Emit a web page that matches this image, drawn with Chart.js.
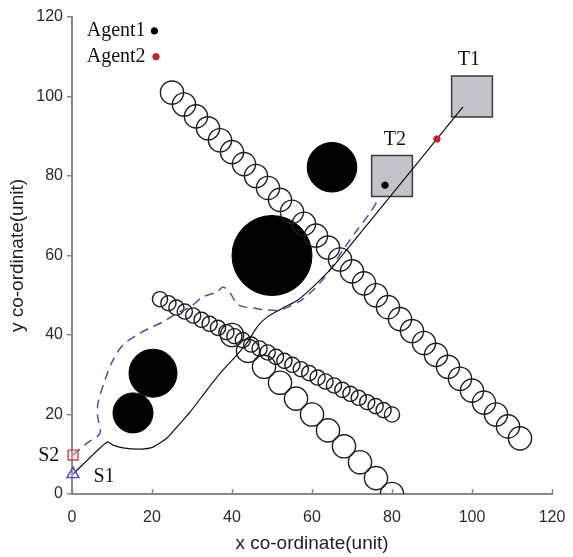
<!DOCTYPE html>
<html>
<head>
<meta charset="utf-8">
<script src="https://cdn.jsdelivr.net/npm/chart.js@4"></script>
<style>
  body { margin: 0; background: #fff; }
  canvas { display: block; }
</style>
</head>
<body>
<canvas id="pathChart" width="573" height="557"></canvas>
<script>
// upper row of wall circles
const row1X = [25, 28, 31, 34, 37, 40, 43, 46, 49, 52, 55, 58, 61, 64, 67, 70, 73, 76, 79, 82, 85, 88, 91, 94, 97, 100, 103, 106, 109, 112];
const row1Y = [101, 98, 95, 92, 89, 86, 83, 80, 77, 74, 71, 68, 65, 62, 59, 56, 53, 50, 47, 44, 41, 38, 35, 32, 29, 26, 23, 20, 17, 14];
// middle row (small circles)
const row2X = [22, 24.1, 26.1, 28.2, 30.3, 32.4, 34.4, 36.5, 38.6, 40.6, 42.7, 44.8, 46.9, 48.9, 51, 53.1, 55.1, 57.2, 59.3, 61.4, 63.4, 65.5, 67.6, 69.6, 71.7, 73.8, 75.9, 77.9, 80];
const row2Y = [49, 48, 46.9, 45.9, 44.9, 43.8, 42.8, 41.8, 40.7, 39.7, 38.7, 37.6, 36.6, 35.6, 34.5, 33.5, 32.5, 31.4, 30.4, 29.3, 28.3, 27.3, 26.2, 25.2, 24.2, 23.1, 22.1, 21.1, 20];
// lower row
const row3X = [40, 44, 48, 52, 56, 60, 64, 68, 72, 76, 80];
const row3Y = [40, 36, 32, 28, 24, 20, 16, 12, 8, 4, 0];
const rowRadius = [2.9, 1.9, 2.9];

// solid black obstacles
const obstacleX = [15.25, 20.25, 50, 65];
const obstacleY = [20.4, 30.4, 60, 82.2];
const obstacleR = [5, 6, 10, 6.2];

// targets
const targetX = [100, 80];
const targetY = [100, 80];
const targetSide = 10.2;

// path from S1 to T1 (solid)
const path1X = [0.25, 8.75, 10.25, 12.75, 17, 20.25, 23.75, 26.25, 29.5, 33.75, 37.75, 41.25, 43.75, 46.25, 48.75, 52.75, 56.5, 60.25, 62.75, 65, 97.75];
const path1Y = [5, 13.1, 12.3, 11.6, 11.3, 11.8, 14.1, 16.9, 20.6, 26.2, 31.2, 35, 38, 42, 44.5, 46.8, 48.8, 52.1, 54.6, 56.9, 97.4];
// path from S2 to T2 (dashed)
const path2X = [0.25, 3.75, 7, 6.4, 6.5, 8.25, 10.25, 12.75, 16.25, 19.5, 22.75, 26.25, 29.5, 32.75, 36.25, 37.75, 39.5, 41, 42.5, 45.25, 48.75, 52, 57, 60.5, 63.5, 67.75, 71, 74.5, 76.8];
const path2Y = [9.8, 12.8, 15.3, 19.5, 22.9, 28.7, 33.7, 37.5, 40, 41.8, 43.3, 45.5, 47, 49.6, 50.8, 52.1, 50.6, 48.2, 47.2, 46.8, 46.3, 46.3, 48.5, 51.5, 55, 61.4, 66, 70.7, 74.5];

// agents: legend dot + current position
const agent1X = [20.6, 78.25];
const agent1Y = [116.5, 77.7];
const agent2X = [21, 91.25];
const agent2Y = [110, 89.3];

// start points
const startX = [0.25, 0.25];
const startY = [5, 9.8];

// text labels
const labelText = ['Agent1', 'Agent2', 'T1', 'T2', 'S1', 'S2'];
const labelX = [18.4, 18.4, 99.2, 80.7, 8, -5.8];
const labelY = [116.5, 110, 109.2, 89, 4.3, 9.6];
const labelAlign = ['right', 'right', 'center', 'center', 'center', 'center'];

const xTicks = [0, 20, 40, 60, 80, 100, 120];

function pts(xs, ys) {
  return xs.map((x, i) => ({ x: x, y: ys[i] }));
}

function unitsToPx(chart, r) {
  const sx = chart.scales.x;
  return Math.abs(sx.getPixelForValue(r) - sx.getPixelForValue(0));
}

function rowSet(xs, ys, r) {
  return {
    data: pts(xs, ys),
    pointRadius: ctx => unitsToPx(ctx.chart, r),
    pointBackgroundColor: 'rgba(255,255,255,0)',
    pointBorderColor: '#1e1e1e',
    pointBorderWidth: 1.4,
    order: 4
  };
}

// keep the plot box where the original has it
function fixBox(s, size) {
  if (s.isHorizontal()) s.height = size; else s.width = size;
  s.paddingLeft = 0;
  s.paddingRight = 0;
  s.paddingTop = 0;
  s.paddingBottom = 0;
}

const extras = {
  id: 'extras',
  afterDatasetsDraw(chart) {
    const ctx = chart.ctx;
    const sx = chart.scales.x;
    const sy = chart.scales.y;
    ctx.save();
    // inward ticks on the x axis
    ctx.strokeStyle = '#888';
    ctx.lineWidth = 1.5;
    xTicks.forEach(v => {
      const px = Math.round(sx.getPixelForValue(v)) + 0.5;
      ctx.beginPath();
      ctx.moveTo(px, chart.chartArea.bottom);
      ctx.lineTo(px, chart.chartArea.bottom - 5);
      ctx.stroke();
    });
    ctx.fillStyle = '#111';
    ctx.font = '20px "Liberation Serif", "Times New Roman", serif';
    ctx.textBaseline = 'middle';
    labelText.forEach((t, i) => {
      ctx.textAlign = labelAlign[i];
      ctx.fillText(t, sx.getPixelForValue(labelX[i]), sy.getPixelForValue(labelY[i]));
    });
    ctx.restore();
  }
};

const ctx = document.getElementById('pathChart').getContext('2d');
new Chart(ctx, {
  type: 'scatter',
  data: {
    datasets: [
      {
        data: pts(agent1X, agent1Y),
        pointRadius: 3.2,
        pointBackgroundColor: '#000',
        pointBorderColor: '#000',
        clip: false,
        order: 0
      },
      {
        data: pts(agent2X, agent2Y),
        pointRadius: 3.2,
        pointBackgroundColor: '#c42222',
        pointBorderColor: '#c42222',
        clip: false,
        order: 0
      },
      {
        data: pts(startX, startY),
        pointStyle: ['triangle', 'rect'],
        pointRadius: [7, 7],
        pointBackgroundColor: ['rgba(200,200,255,0.25)', 'rgba(255,190,190,0.35)'],
        pointBorderColor: ['#4a4ac8', '#d04848'],
        pointBorderWidth: 1.4,
        clip: false,
        order: 1
      },
      {
        data: pts(path1X, path1Y),
        showLine: true,
        borderColor: '#111',
        borderWidth: 1.2,
        tension: 0.2,
        pointRadius: 0,
        clip: false,
        order: 2
      },
      {
        data: pts(path2X, path2Y),
        showLine: true,
        borderColor: '#4f4fa3',
        borderWidth: 1.5,
        borderDash: [9, 6],
        tension: 0.3,
        pointRadius: 0,
        clip: false,
        order: 2
      },
      {
        data: pts(targetX, targetY),
        pointStyle: 'rect',
        pointRadius: ctx => unitsToPx(ctx.chart, targetSide) / Math.SQRT2,
        pointBackgroundColor: '#c3c3ca',
        pointBorderColor: '#3a3a44',
        pointBorderWidth: 1.5,
        order: 3
      },
      rowSet(row1X, row1Y, rowRadius[0]),
      rowSet(row2X, row2Y, rowRadius[1]),
      rowSet(row3X, row3Y, rowRadius[2]),
      {
        data: pts(obstacleX, obstacleY),
        pointRadius: ctx => unitsToPx(ctx.chart, obstacleR[ctx.dataIndex]),
        pointBackgroundColor: '#000',
        pointBorderColor: '#000',
        pointBorderWidth: 1,
        order: 5
      }
    ]
  },
  options: {
    responsive: false,
    animation: false,
    events: [],
    layout: { padding: { top: 17, right: 21, bottom: 0, left: 0 } },
    plugins: {
      legend: { display: false },
      tooltip: { enabled: false }
    },
    scales: {
      x: {
        type: 'linear',
        min: 0,
        max: 120,
        afterFit: s => fixBox(s, 63),
        ticks: {
          stepSize: 20,
          color: '#2a2a2a',
          padding: 14,
          font: { family: '"Liberation Sans", Arial, sans-serif', size: 16 }
        },
        grid: { drawOnChartArea: false, drawTicks: false },
        border: { color: '#8a8a8a', width: 2 },
        title: {
          display: true,
          text: 'x co-ordinate(unit)',
          color: '#222',
          padding: { top: 0, bottom: 2 },
          font: { family: '"Liberation Sans", Arial, sans-serif', size: 19 }
        }
      },
      y: {
        type: 'linear',
        min: 0,
        max: 120,
        afterFit: s => fixBox(s, 72),
        ticks: {
          stepSize: 20,
          color: '#2a2a2a',
          padding: 4,
          font: { family: '"Liberation Sans", Arial, sans-serif', size: 16 }
        },
        grid: { drawOnChartArea: false, drawTicks: true, tickLength: 5, color: '#8a8a8a', lineWidth: 1.5 },
        border: { color: '#8a8a8a', width: 2 },
        title: {
          display: true,
          text: 'y co-ordinate(unit)',
          color: '#222',
          padding: { top: 6, bottom: 0 },
          font: { family: '"Liberation Sans", Arial, sans-serif', size: 19 }
        }
      }
    }
  },
  plugins: [extras]
});
</script>
</body>
</html>
